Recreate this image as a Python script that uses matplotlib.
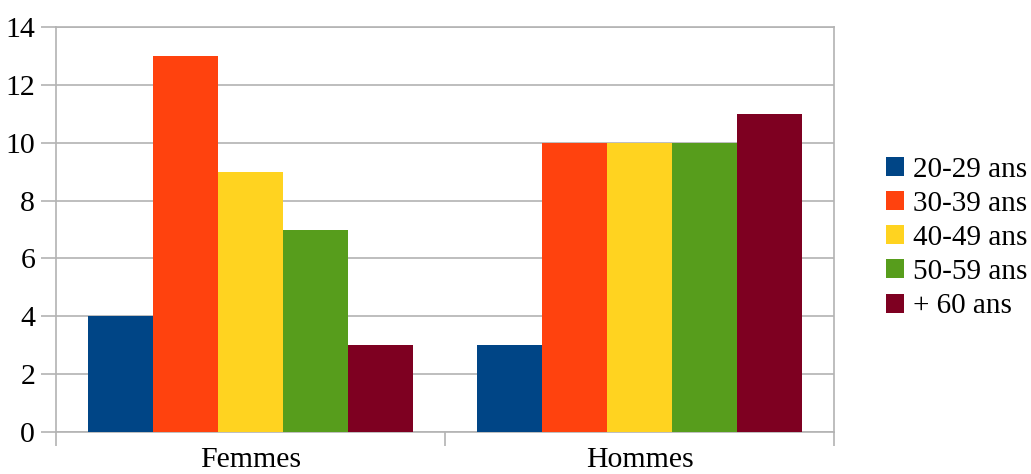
import numpy as np
import matplotlib
matplotlib.use("Agg")
import matplotlib.pyplot as plt

# data
categories = ["Femmes", "Hommes"]
series = ["20-29 ans", "30-39 ans", "40-49 ans", "50-59 ans", "+ 60 ans"]
values = [
    [4, 3],
    [13, 10],
    [9, 10],
    [7, 10],
    [3, 11],
]
colors = ["#004586", "#ff420e", "#ffd320", "#579d1c", "#7e0021"]

plt.rcParams['font.family'] = ['Liberation Serif', 'DejaVu Serif']
grid_col = "#b3b3b3"

fig = plt.figure(figsize=(10.31, 4.74), dpi=100)
ax = fig.add_axes([56 / 1031, 42 / 474, 778 / 1031, 405 / 474])

x = np.arange(len(categories))
group = 0.835
w = group / len(series)
for i, (name, vals) in enumerate(zip(series, values)):
    ax.bar(x - group / 2 + w * (i + 0.5), vals, width=w, color=colors[i],
           label=name, zorder=3)

ax.set_xlim(-0.5, len(categories) - 0.5)
ax.set_ylim(0, 14)
ax.set_yticks(np.arange(0, 15, 2))
ax.yaxis.grid(True, color=grid_col, linewidth=1.2, zorder=0)

# category boundaries as major ticks, labels on minor ticks
ax.set_xticks(np.arange(len(categories) + 1) - 0.5)
ax.set_xticklabels([])
ax.set_xticks(x, minor=True)
ax.set_xticklabels(categories, minor=True)
ax.tick_params(axis='x', which='minor', length=0, pad=11, labelsize=21.5)
ax.tick_params(axis='x', which='major', length=10, width=1.2, color=grid_col)
ax.tick_params(axis='y', length=11, width=1.2, color=grid_col, labelsize=21.5, pad=4)

for s in ax.spines.values():
    s.set_color(grid_col)
    s.set_linewidth(1.2)

ax.legend(loc='center left', bbox_to_anchor=(886 / 1031, 236 / 474),
          bbox_transform=fig.transFigure, frameon=False, fontsize=21,
          handlelength=0.62, handleheight=0.62, handletextpad=0.3,
          labelspacing=0.28, borderpad=0, borderaxespad=0)

fig.savefig("out.png", dpi=100)
